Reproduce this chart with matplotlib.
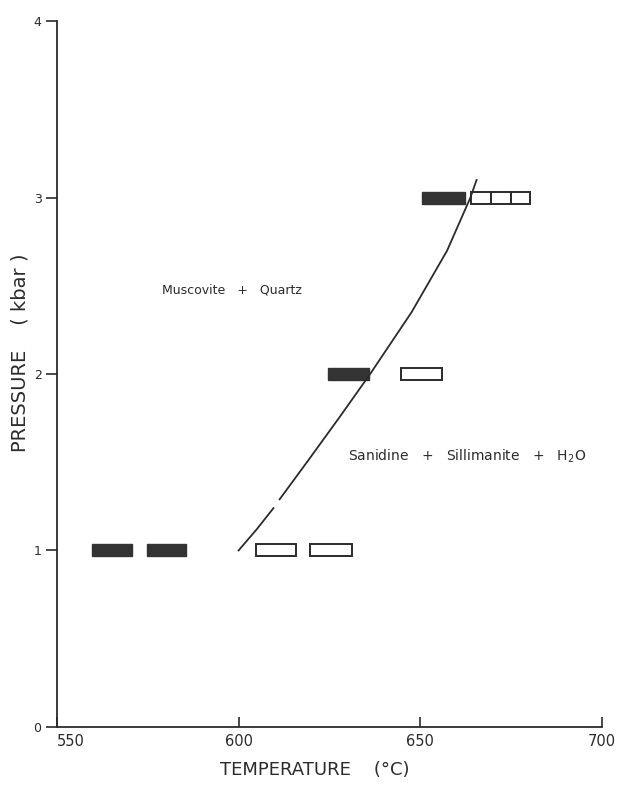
import numpy as np
import matplotlib
matplotlib.use('Agg')
import matplotlib.pyplot as plt

# experiment brackets: pressure (kbar), start and end temperature (C)
dark_p = [1, 1, 2, 3]
dark_t0 = [559.7, 574.7, 624.7, 650.6]
dark_t1 = [570.8, 585.5, 636.0, 662.3]

open_p = [1, 1, 2, 3, 3, 3]
open_t0 = [604.7, 619.6, 644.7, 664.1, 669.4, 674.9]
open_t1 = [615.8, 631.2, 655.9, 669.4, 674.9, 680.2]

# reaction curve (drawn with a small break)
curve_t_low = [600.0, 605.0, 609.6]
curve_p_low = [1.0, 1.12, 1.24]
curve_t_high = [611.3, 618.8, 627.6, 636.2, 647.6, 657.4, 663.8, 665.5]
curve_p_high = [1.29, 1.50, 1.75, 2.0, 2.35, 2.70, 3.0, 3.1]

xticks = [550, 600, 650, 700]
yticks = [0, 1, 2, 3, 4]

ink = '#2b2b2b'
bar_h = 0.068

fig = plt.figure(figsize=(6.18, 7.85), dpi=100)
ax = fig.add_axes([0.092, 0.074, 0.882, 0.899])

for p, a, b in zip(dark_p, dark_t0, dark_t1):
    ax.barh(p, b - a, left=a, height=bar_h, color='#333333', edgecolor='#333333', linewidth=1.0)
for p, a, b in zip(open_p, open_t0, open_t1):
    ax.barh(p, b - a, left=a, height=bar_h, color='white', edgecolor=ink, linewidth=1.4)

ax.plot(curve_t_low, curve_p_low, color=ink, lw=1.3)
ax.plot(curve_t_high, curve_p_high, color=ink, lw=1.3)

ax.text(579, 2.476, 'Muscovite   +   Quartz', fontsize=9, color=ink, va='center')
ax.text(630, 1.535, 'Sanidine   +   Sillimanite   +   H$_2$O', fontsize=10, color=ink, va='center')

ax.set_xlim(550, 700)
ax.set_ylim(0, 4)
ax.set_xticks(xticks)
ax.set_yticks(yticks)
ax.set_xticklabels([str(v) for v in xticks], fontsize=10.5, color=ink)
ax.set_yticklabels([str(v) for v in yticks], fontsize=9, color=ink)
ax.tick_params(axis='x', direction='in', length=7, width=1.2, pad=5, colors=ink)
ax.tick_params(axis='y', direction='out', length=8, width=1.2, pad=3, colors=ink)
ax.get_xticklabels()[0].set_horizontalalignment('left')

for s in ['top', 'right']:
    ax.spines[s].set_visible(False)
for s in ['left', 'bottom']:
    ax.spines[s].set_linewidth(1.3)
    ax.spines[s].set_color(ink)

fig.text(0.51, 0.019, 'TEMPERATURE    (°C)', fontsize=13, color=ink, ha='center', va='center')
fig.text(0.033, 0.551, 'PRESSURE    ( kbar )', fontsize=14, color=ink, rotation=90, ha='center', va='center')

fig.savefig('out.png', dpi=100)
